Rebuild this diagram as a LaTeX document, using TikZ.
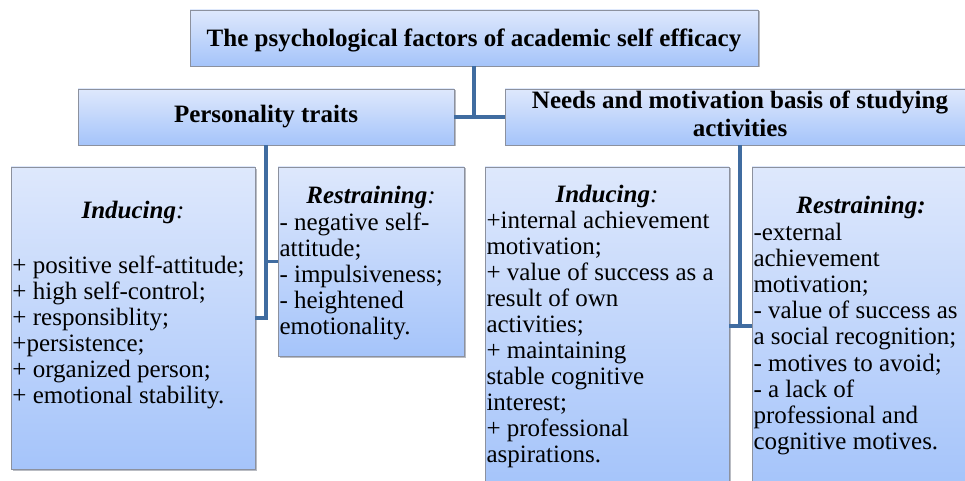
\documentclass[tikz,border=0pt]{standalone}
\usepackage{fontspec}
\newfontfamily\tnr{Liberation Serif}[Ligatures={TeX,NoCommon}]
\usetikzlibrary{shadows}
\definecolor{boxtop}{RGB}{222,232,252}
\definecolor{boxbot}{RGB}{165,196,250}
\definecolor{boxedge}{RGB}{140,145,158}
\definecolor{conncol}{RGB}{64,108,160}
\definecolor{shadowcol}{RGB}{185,188,195}
\begin{document}
\begin{tikzpicture}[x=1pt,y=-1pt,
  box/.style={draw=boxedge, line width=0.8pt, top color=boxtop, bottom color=boxbot,
    inner sep=0pt, outer sep=0pt,
    drop shadow={shadow xshift=1.5pt, shadow yshift=-1.5pt, opacity=1, fill=shadowcol}},
  conn/.style={draw=conncol, line width=3.5pt},
  txt/.style={inner sep=0pt, outer sep=0pt, font=\tnr\fontsize{25}{26}\selectfont},
  list/.style={txt, align=left, anchor=north west},
  head/.style={txt, anchor=base, font=\tnr\fontsize{25}{26}\selectfont\bfseries\itshape}
]
\useasboundingbox (0,0) rectangle (965,481);
\clip (0,0) rectangle (965,481);

% top level boxes
\node[box, anchor=north west, minimum width=568pt, minimum height=56pt,
  font=\tnr\fontsize{25}{26}\selectfont\bfseries, text height=18pt, text depth=0pt]
  (top) at (190,10) {The psychological factors of academic self efficacy};
\node[box, anchor=north west, minimum width=376pt, minimum height=56pt,
  font=\tnr\fontsize{25}{26}\selectfont\bfseries, text height=18pt, text depth=6pt]
  (pers) at (78,89) {Personality traits};
\node[box, minimum width=470pt, minimum height=55pt, align=center,
  font=\tnr\fontsize{25}{28}\selectfont\bfseries]
  (needs) at (740,117) {\strut Needs and motivation basis of studying\\\strut activities};

% lower boxes
\node[box, anchor=north west, minimum width=244pt, minimum height=302pt] (indL) at (11,167) {};
\node[box, anchor=north west, minimum width=186pt, minimum height=189pt] (resL) at (278,167) {};
\node[box, anchor=north west, minimum width=244pt, minimum height=318pt] (indR) at (485,167) {};
\node[box, anchor=north west, minimum width=218pt, minimum height=318pt] (resR) at (752,167) {};

% headings
\node[head] (indLh) at (133,218) {Inducing\textmd{:}};
\node[head] (resLh) at (371,203) {Restraining\textmd{:}};
\node[head] (indRh) at (607,202) {Inducing\textmd{:}};
\node[head] (resRh) at (861,213) {Restraining:};

% lists
\node[list] (indLl) at (12.5,254.8) {\strut+ positive self-attitude;\\+ high self-control;\\+ responsiblity;\\+persistence;\\+ organized person;\\+ emotional stability.};
\node[list] (resLl) at (279.5,211.8) {\strut- negative self-\\attitude;\\- impulsiveness;\\- heightened\\emotionality.};
\node[list] (indRl) at (486.5,209.8) {\strut+internal achievement\\motivation;\\+ value of success as a\\result of own\\activities;\\+ maintaining\\stable cognitive\\interest;\\+ professional\\aspirations.};
\node[list, font=\tnr\fontsize{25}{26.2}\selectfont] (resRl) at (753.5,221.8) {\strut-external\\achievement\\motivation;\\- value of success as\\a social recognition;\\- motives to avoid;\\- a lack of\\professional and\\cognitive motives.};

% connectors
\draw[conn] (top.south) -- (top.south |- pers.east);
\draw[conn] (pers.east) -- (needs.west);
\draw[conn] (pers.south) |- (indL.east);
\draw[conn] (pers.south |- resL.west) -- (resL.west);
\draw[conn] (needs.south) |- (indR.east);
\draw[conn] (needs.south |- resR.west) -- (resR.west);
\end{tikzpicture}
\end{document}
